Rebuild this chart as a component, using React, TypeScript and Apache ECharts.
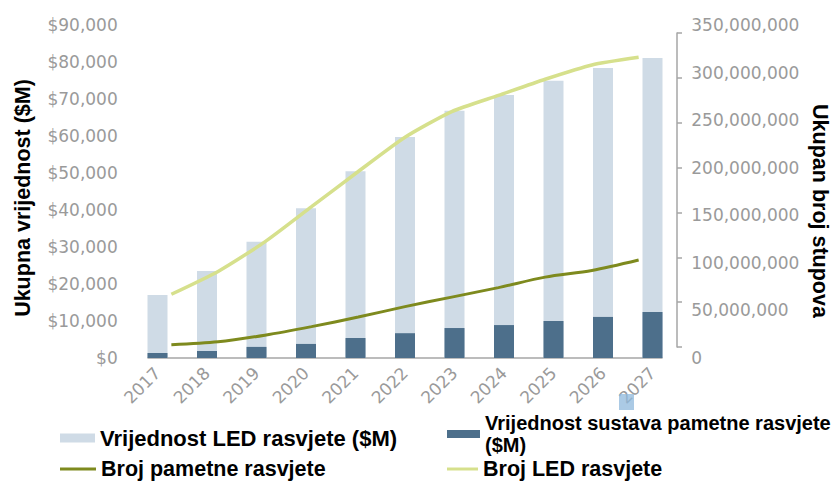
import React, { useEffect, useRef } from "react";
import * as echarts from "echarts";

const years = ["2017", "2018", "2019", "2020", "2021", "2022", "2023", "2024", "2025", "2026", "2027"];
const ledValue = [17000, 23500, 31400, 40500, 50500, 59700, 66800, 71100, 74900, 78400, 81100];
const smartValue = [1350, 1900, 3000, 3800, 5400, 6700, 8100, 8900, 10000, 11100, 12400];
const ledCount = [67e6, 91e6, 122e6, 159e6, 196e6, 232e6, 259e6, 276e6, 293e6, 308e6, 316e6];
const smartCount = [14e6, 17e6, 24e6, 33e6, 43e6, 54e6, 64e6, 74e6, 85e6, 92e6, 103e6];

const N_LED_V = "Vrijednost LED rasvjete ($M)";
const N_SMART_V = "Vrijednost sustava pametne rasvjete ($M)";
const N_SMART_C = "Broj pametne rasvjete";
const N_LED_C = "Broj LED rasvjete";

const GRAY = "#9a9a9a";
const FONT = "DejaVu Sans";
const BOLD = "Liberation Sans";

export default function App() {
  const ref = useRef<HTMLDivElement>(null);
  useEffect(() => {
    if (!ref.current) return;
    const chart = echarts.init(ref.current, null, { renderer: "svg" });
    const fmtMoney = (v: number) => "$" + v.toLocaleString("en-US");
    const fmtNum = (v: number) => v.toLocaleString("en-US");
    const legendText = { fontFamily: BOLD, fontWeight: "bold" as const, fontSize: 22, lineHeight: 22, color: "#000" };
    chart.setOption({
      animation: false,
      backgroundColor: "#fff",
      grid: [
        { left: 132.75, right: 160.75, top: 25, bottom: 123 },
        { left: 148, right: 176, top: 25, bottom: 123 },
        { left: 600, right: 161, top: 33, bottom: 134 },
      ],
      xAxis: [
        {
          type: "category", data: years, gridIndex: 0,
          axisLine: { show: false }, axisTick: { show: false },
          axisLabel: { rotate: 45, color: GRAY, fontFamily: FONT, fontSize: 17, margin: 12 },
        },
        {
          type: "category", data: years, gridIndex: 1,
          axisLine: { show: true, lineStyle: { color: "#a6a6a6", width: 1.5 } },
          axisTick: { show: false }, axisLabel: { show: false },
        },
        { type: "category", data: years, gridIndex: 2, show: false },
      ],
      yAxis: [
        {
          type: "value", gridIndex: 0, min: 0, max: 90000, interval: 10000,
          splitLine: { show: false }, axisLine: { show: false }, axisTick: { show: false },
          axisLabel: { color: GRAY, fontFamily: FONT, fontSize: 17, margin: 15, formatter: fmtMoney },
        },
        {
          type: "value", gridIndex: 0, position: "right", min: 0, max: 350e6, interval: 50e6,
          splitLine: { show: false }, axisLine: { show: false }, axisTick: { show: false },
          axisLabel: { color: GRAY, fontFamily: FONT, fontSize: 17, margin: 14, formatter: fmtNum },
        },
        {
          type: "value", gridIndex: 1, min: 0, max: 350e6, interval: 50e6, show: false,
        },
        {
          type: "value", gridIndex: 2, position: "right", min: 0, max: 350e6, interval: 50e6,
          splitLine: { show: false }, axisLabel: { show: false },
          axisLine: { show: true, lineStyle: { color: "#a6a6a6", width: 1.5 } },
          axisTick: { show: true, inside: false, length: 5, lineStyle: { color: "#a6a6a6", width: 1.5 } },
        },
      ],
      legend: [
        { data: [N_LED_V], left: 60, top: 427, padding: 0, icon: "rect", itemWidth: 35, itemHeight: 9, textStyle: legendText },
        {
          data: [N_SMART_V], left: 447, top: 412, padding: 0, icon: "rect", itemWidth: 33, itemHeight: 8,
          formatter: () => "Vrijednost sustava pametne rasvjete\n($M)",
          textStyle: { ...legendText, fontSize: 20, lineHeight: 22 },
        },
        { data: [N_SMART_C], left: 60, top: 458, padding: 0, icon: "rect", itemWidth: 36, itemHeight: 3, textStyle: { ...legendText, fontSize: 21.5, lineHeight: 20 } },
        { data: [N_LED_C], left: 447, top: 458, padding: 0, icon: "rect", itemWidth: 31, itemHeight: 3, textStyle: { ...legendText, fontSize: 21.5, lineHeight: 20 } },
      ],
      series: [
        {
          name: N_LED_V, type: "bar", xAxisIndex: 0, yAxisIndex: 0, data: ledValue,
          barWidth: 20, barGap: "-100%", itemStyle: { color: "#cfdbe6" },
        },
        {
          name: N_SMART_V, type: "bar", xAxisIndex: 0, yAxisIndex: 0, data: smartValue,
          barWidth: 20, barGap: "-100%", itemStyle: { color: "#4d6f8b" },
        },
        {
          name: N_SMART_C, type: "line", xAxisIndex: 1, yAxisIndex: 2, data: smartCount,
          symbol: "none", smooth: 0.3, lineStyle: { color: "#7e8a1e", width: 3 }, itemStyle: { color: "#7e8a1e" },
        },
        {
          name: N_LED_C, type: "line", xAxisIndex: 1, yAxisIndex: 2, data: ledCount,
          symbol: "none", smooth: 0.2, lineStyle: { color: "#d6e08c", width: 3.5 }, itemStyle: { color: "#d6e08c" },
        },
      ],
      graphic: [
        {
          type: "text", x: 23, y: 198, rotation: Math.PI / 2,
          style: { text: "Ukupna vrijednost ($M)", fontFamily: BOLD, fontWeight: "bold", fontSize: 21.5, fill: "#000", textAlign: "center", textVerticalAlign: "middle" },
        },
        {
          type: "text", x: 820, y: 211, rotation: -Math.PI / 2,
          style: { text: "Ukupan broj stupova", fontFamily: BOLD, fontWeight: "bold", fontSize: 21.5, fill: "#000", textAlign: "center", textVerticalAlign: "middle" },
        },
        {
          type: "rect", shape: { x: 619, y: 394, width: 15, height: 16 },
          style: { fill: "#8fb8dc", opacity: 0.75 }, z: 100,
        },
      ],
    });
    return () => chart.dispose();
  }, []);
  return <div ref={ref} style={{ width: 838, height: 481, position: "absolute", left: 0, top: 0 }} />;
}
